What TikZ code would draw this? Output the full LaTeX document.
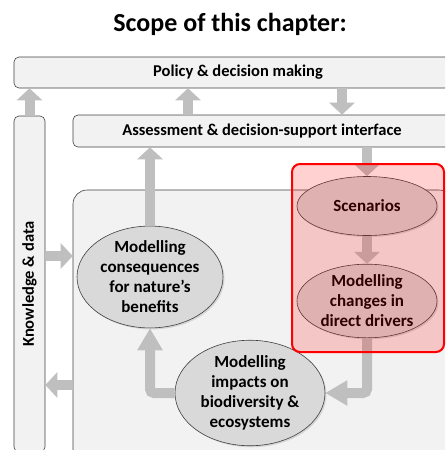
\documentclass[tikz,border=0pt]{standalone}
\usepackage{fontspec}
\setmainfont{Carlito}
\usetikzlibrary{shapes.geometric,arrows.meta,shadows}

\definecolor{panelfill}{HTML}{F2F2F2}
\definecolor{blobfill}{HTML}{D9D9D9}
\definecolor{edgegray}{HTML}{404040}
\definecolor{flowgray}{HTML}{BFBFBF}

\tikzset{
    panel/.style={draw=edgegray, fill=panelfill, rounded corners=5pt, line width=0.6pt, inner sep=0pt,
        font=\bfseries\fontsize{16.5}{20}\selectfont},
    blob/.style={ellipse, draw=edgegray, fill=blobfill, line width=0.6pt, inner sep=0pt, align=center,
        font=\bfseries\fontsize{17}{20}\selectfont,
        drop shadow={shadow xshift=1.5pt, shadow yshift=-1.5pt, opacity=0.25}},
    flow/.style={draw=flowgray, line width=10pt, -{Triangle[width=25pt,length=12pt]}},
    longflow/.style={flow, rounded corners=4pt, -{Triangle[width=24pt,length=22pt]}}
}

\begin{document}
\begin{tikzpicture}[x=1pt,y=-1pt]
    \useasboundingbox (0,0) rectangle (445,450);
    \clip (0,0) rectangle (445,450);

    \node[font=\bfseries\fontsize{26}{30}\selectfont] (title) at (230,24) {Scope of this chapter:};

    \node[panel, minimum width=448pt, minimum height=31pt] (policy) at (238,72.5) {Policy \& decision making};
    \node[panel, minimum width=378pt, minimum height=32pt] (assess) at (262,131) {Assessment \& decision-support interface};
    \node[panel, minimum width=31pt, minimum height=336pt] (know) at (29.5,284) {};
    \node[font=\bfseries\fontsize{16.5}{20}\selectfont, rotate=90] (knowtext) at (know.center) {Knowledge \& data};
    \node[panel, rounded corners=14pt, minimum width=380pt, minimum height=280pt] (inner) at (263,330) {};

    \node[blob, minimum width=146pt, minimum height=101pt] (cons) at (150,277) {Modelling\\consequences\\for nature’s\\benefits};
    \node[blob, minimum width=150pt, minimum height=97pt] (imp) at (250,393) {Modelling\\impacts on\\biodiversity \&\\ecosystems};
    \node[blob, minimum width=140pt, minimum height=59pt] (scen) at (367,206) {Scenarios};
    \node[blob, minimum width=140pt, minimum height=73pt] (chg) at (367,301) {Modelling\\changes in\\direct drivers};

    \draw[flow] (know.north) -- (know.north |- policy.south);
    \draw[flow] (assess.north -| 188,0) -- (policy.south -| 188,0);
    \draw[flow] (policy.south -| 342,0) -- (assess.north -| 342,0);
    \draw[flow] (assess.south -| scen.north) -- (scen.north);
    \draw[flow] (cons.north) -- (cons.north |- assess.south);
    \draw[flow] (know.east |- 0,256) -- (inner.west |- 0,256);
    \draw[flow] (inner.west |- 0,385) -- (know.east |- 0,385);
    \draw[flow] (scen.south) -- (chg.north);
    \draw[longflow] (chg.south) |- (imp.east);
    \draw[longflow] (imp.west) -| (cons.south);

    \node[draw=red, line width=2pt, rounded corners=8pt, fill=red, fill opacity=0.18,
        minimum width=152pt, minimum height=188pt] (focus) at (368,258) {};
\end{tikzpicture}
\end{document}
